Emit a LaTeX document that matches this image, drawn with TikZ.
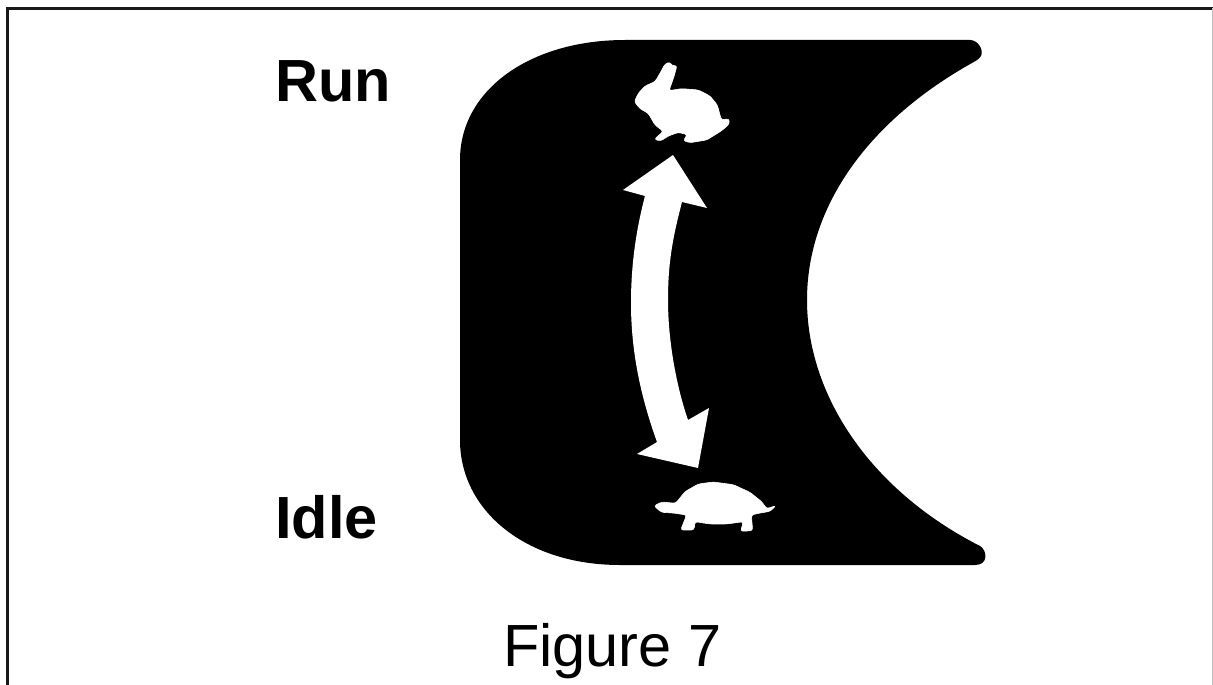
\documentclass[tikz,border=0pt]{standalone}
\usepackage{fontspec}
\setmainfont{Liberation Sans}
\tikzset{
  label bold/.style={font=\fontsize{59.5}{60}\selectfont\bfseries,inner sep=0pt,anchor=base west},
  caption text/.style={font=\fontsize{59.5}{60}\selectfont,inner sep=0pt,anchor=base west},
  frame line/.style={line width=3pt,black!90},
  animal/.style={fill=white,draw=white,line width=.6pt,line join=round,rounded corners=2.5pt}
}
\begin{document}
\begin{tikzpicture}[x=1pt,y=-1pt]
\useasboundingbox (0,0) rectangle (1213,685);
\fill[white] (0,0) rectangle (1213,685);
% frame
\draw[frame line] (7.5,685) -- (7.5,8.5) -- (1213,8.5);
\draw[line width=1pt,black!25] (1212.5,8) -- (1212.5,685);
% black shape
\fill[black] (625,40) -- (970,40)
  .. controls (978,40) and (984,50) .. (981,56)
  .. controls (978,60) and (977,60) .. (972,63)
  .. controls (870,120) and (807,205) .. (807,300)
  .. controls (807,395) and (870,490) .. (980,546)
  .. controls (987,550) and (989,565) .. (975,565)
  -- (620,565)
  .. controls (525,565) and (460,510) .. (460,440)
  -- (460,160)
  .. controls (460,90) and (530,40) .. (625,40) -- cycle;
% double arrow
\fill[white] (673,155) -- (707,208) -- (682,202)
  .. controls (672,240) and (668,265) .. (668,300)
  .. controls (668,340) and (676,385) .. (688,420)
  -- (709,408) -- (698,468) -- (637,454) -- (657,442)
  .. controls (640,395) and (631,350) .. (631,303)
  .. controls (631,265) and (636,230) .. (645,196)
  -- (623,190) -- cycle;
% rabbit
\begin{scope}[shift={(610pt,-50pt)},x=0.3333pt,y=-0.3333pt]
\fill[animal] (73,155) -- (85,130) -- (105,108) -- (135,95) -- (150,70) -- (165,42) -- (180,36)
 -- (186,48) -- (201,46) -- (192,80) -- (177,122) -- (215,116) -- (265,120) -- (300,138)
 -- (322,165) -- (334,210) -- (357,206) -- (358,222) -- (335,242) -- (290,270) -- (240,278)
 -- (220,272) -- (232,254) -- (205,247) -- (175,258) -- (152,273) -- (133,268) -- (160,244)
 -- (135,225) -- (115,190) -- (90,176) -- cycle;
\end{scope}
% turtle
\begin{scope}[shift={(630pt,-470pt)},x=0.3333pt,y=-0.3333pt]
\fill[animal] (72,108) -- (95,96) -- (137,100) -- (165,65) -- (205,42) -- (250,36) -- (310,44)
 -- (360,67) -- (395,95) -- (410,116) -- (438,107) -- (420,124) -- (385,130) -- (364,135)
 -- (368,182) -- (332,184) -- (340,155) -- (290,162) -- (240,162) -- (195,155) -- (192,180)
 -- (152,180) -- (170,135) -- (130,129) -- (95,127) -- cycle;
\end{scope}
% labels
\node[label bold] (run) at (275,101) {Run};
\node[label bold] (idle) at (275,538) {Idle};
\node[caption text] (fig) at (503,666) {Figure 7};
\end{tikzpicture}
\end{document}
